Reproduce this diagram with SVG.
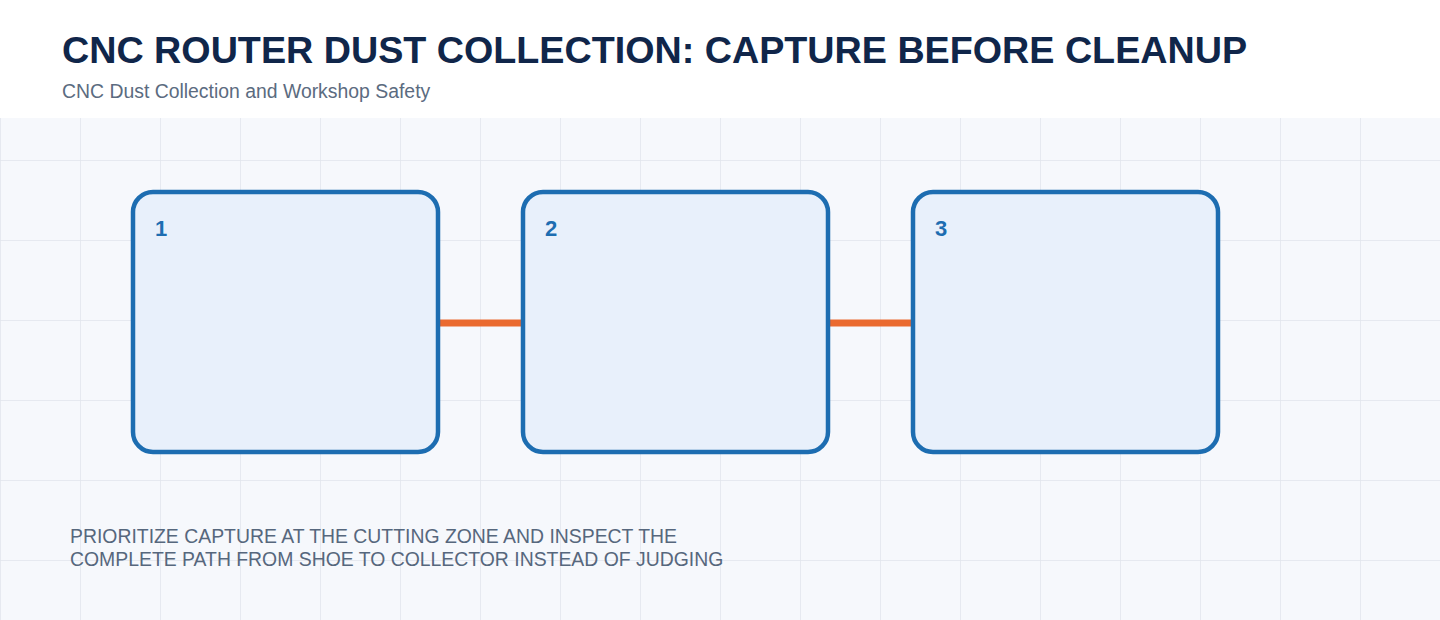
<svg xmlns="http://www.w3.org/2000/svg" width="1440" height="620" viewBox="0 0 1440 620">
  <defs>
    <pattern id="grid" x="0" y="0" width="80" height="80" patternUnits="userSpaceOnUse">
      <rect width="80" height="80" fill="#f6f8fc"/>
      <path d="M0 0 V80 M0 0 H80" fill="none" stroke="#e1e5ec" stroke-width="1.5"/>
    </pattern>
    <style>
      .title{font-family:"Liberation Sans",Arial,sans-serif;font-weight:bold;font-size:37.7px;fill:#10264a}
      .sub{font-family:"Liberation Sans",Arial,sans-serif;font-size:19.4px;fill:#5b6b80}
      .note{font-family:"Liberation Sans",Arial,sans-serif;font-size:19.4px;fill:#56677d}
      .box{fill:#e8f0fb;stroke:#1d6db1;stroke-width:4.5}
      .num{font-family:"Liberation Sans",Arial,sans-serif;font-weight:bold;font-size:22px;fill:#1d6db1}
      .conn{stroke:#ea6a30;stroke-width:7;fill:none}
    </style>
  </defs>
  <rect width="1440" height="620" fill="#ffffff"/>
  <rect x="0" y="118" width="1440" height="502" fill="url(#grid)"/>
  <text class="title" x="62" y="63">CNC ROUTER DUST COLLECTION: CAPTURE BEFORE CLEANUP</text>
  <text class="sub" x="62" y="98">CNC Dust Collection and Workshop Safety</text>
  <g id="connectors">
    <line class="conn" x1="438" y1="323" x2="523" y2="323"/>
    <line class="conn" x1="828" y1="323" x2="913" y2="323"/>
  </g>
  <g id="node1">
    <rect class="box" x="133" y="192" width="305" height="260" rx="20"/>
    <text class="num" x="155" y="236">1</text>
  </g>
  <g id="node2">
    <rect class="box" x="523" y="192" width="305" height="260" rx="20"/>
    <text class="num" x="545" y="236">2</text>
  </g>
  <g id="node3">
    <rect class="box" x="913" y="192" width="305" height="260" rx="20"/>
    <text class="num" x="935" y="236">3</text>
  </g>
  <text class="note" x="70" y="543">PRIORITIZE CAPTURE AT THE CUTTING ZONE AND INSPECT THE</text>
  <text class="note" x="70" y="566">COMPLETE PATH FROM SHOE TO COLLECTOR INSTEAD OF JUDGING</text>
</svg>
